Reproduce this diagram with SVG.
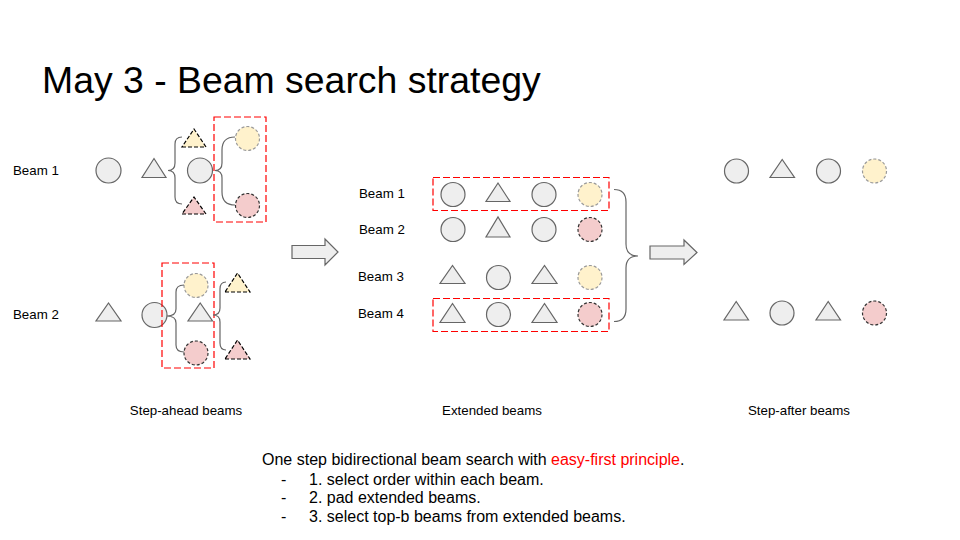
<svg xmlns="http://www.w3.org/2000/svg" width="960" height="540" viewBox="0 0 960 540">
  <style>
    text { font-family: "Liberation Sans", Arial, sans-serif; fill: #000; }
    .lbl { font-size: 13.3px; }
    .tok { fill: #eeeeee; stroke: #666666; stroke-width: 1.2; }
    .yel { fill: #fff2cc; stroke: #9a9a9a; stroke-width: 1.2; stroke-dasharray: 3 2; }
    .pnk { fill: #f4cccc; stroke: #333333; stroke-width: 1.2; stroke-dasharray: 3 2; }
    .ytri { fill: #fff2cc; stroke: #000; stroke-width: 1.2; stroke-dasharray: 4 2; }
    .ptri { fill: #f4cccc; stroke: #000; stroke-width: 1.2; stroke-dasharray: 4 2; }
    .sel { fill: none; stroke: #ff0000; stroke-width: 1.2; stroke-dasharray: 7 3; }
    .brace { fill: none; stroke: #666666; stroke-width: 1.2; }
    .big { fill: #eeeeee; stroke: #666666; stroke-width: 1.2; }
  </style>

  <text x="42" y="93" font-size="37.4">May 3 - Beam search strategy</text>

  <!-- step-ahead beams -->
  <g id="step-ahead-beam1">
    <text class="lbl" x="13" y="175">Beam 1</text>
    <circle class="tok" cx="108.5" cy="170.5" r="12.5"/>
    <polygon class="tok" points="142,177.5 166,177.5 154,158.5"/>
    <polygon class="ytri" points="182,147 206,147 194,129"/>
    <circle class="tok" cx="200" cy="170.5" r="12.5"/>
    <polygon class="ptri" points="182,214 206,214 194,197"/>
    <rect class="sel" x="214" y="117" width="52" height="105"/>
    <circle class="yel" cx="247.5" cy="138.5" r="12"/>
    <circle class="pnk" cx="247.5" cy="205.5" r="12"/>
  </g>
  <g id="step-ahead-beam2">
    <text class="lbl" x="13" y="319">Beam 2</text>
    <polygon class="tok" points="96,321 121,321 108.5,303"/>
    <circle class="tok" cx="154.5" cy="315" r="12.5"/>
    <rect class="sel" x="162" y="263" width="52" height="105"/>
    <circle class="yel" cx="196" cy="285.5" r="12"/>
    <polygon class="tok" points="188,321 212.5,321 200.2,303"/>
    <circle class="pnk" cx="196" cy="353" r="12"/>
    <polygon class="ytri" points="225,292 250,292 237.5,273"/>
    <polygon class="ptri" points="225,359 250,359 237.5,340"/>
  </g>

  <!-- extended beams -->
  <g id="extended-beam1">
    <text class="lbl" x="359" y="198">Beam 1</text>
    <rect class="sel" x="433" y="177.5" width="176" height="33"/>
    <circle class="tok" cx="453" cy="194.5" r="12"/>
    <polygon class="tok" points="486,201.5 510,201.5 498,183"/>
    <circle class="tok" cx="544" cy="194.5" r="12"/>
    <circle class="yel" cx="590" cy="194.5" r="12"/>
  </g>
  <g id="extended-beam2">
    <text class="lbl" x="359" y="234">Beam 2</text>
    <circle class="tok" cx="453" cy="229.5" r="12"/>
    <polygon class="tok" points="486,237 510,237 498,217"/>
    <circle class="tok" cx="544" cy="229.5" r="12"/>
    <circle class="pnk" cx="590" cy="229.5" r="12"/>
  </g>
  <g id="extended-beam3">
    <text class="lbl" x="358" y="281">Beam 3</text>
    <polygon class="tok" points="440,283.5 465,283.5 452.5,265.5"/>
    <circle class="tok" cx="498.5" cy="277.5" r="12"/>
    <polygon class="tok" points="532,283.5 557,283.5 544.5,265.5"/>
    <circle class="yel" cx="590" cy="277.5" r="12"/>
  </g>
  <g id="extended-beam4">
    <text class="lbl" x="358" y="318">Beam 4</text>
    <rect class="sel" x="433" y="298.5" width="176" height="33"/>
    <polygon class="tok" points="440,322.5 465,322.5 452.5,303.5"/>
    <circle class="tok" cx="498.5" cy="314.5" r="12"/>
    <polygon class="tok" points="532,322.5 557,322.5 544.5,303.5"/>
    <circle class="pnk" cx="590" cy="314.5" r="12"/>
  </g>

  <!-- step-after beams -->
  <g id="step-after-beam1">
    <circle class="tok" cx="736.5" cy="171" r="12"/>
    <polygon class="tok" points="770,177.5 794.5,177.5 782.2,159.5"/>
    <circle class="tok" cx="828.5" cy="171" r="12"/>
    <circle class="yel" cx="874.5" cy="171" r="12"/>
  </g>
  <g id="step-after-beam2">
    <polygon class="tok" points="724,320 748.5,320 736.2,301.5"/>
    <circle class="tok" cx="782" cy="313" r="12"/>
    <polygon class="tok" points="816,320 840.5,320 828.2,301.5"/>
    <circle class="pnk" cx="874.5" cy="313" r="12"/>
  </g>

  <!-- connectors: braces and step arrows -->
  <g id="connectors">
    <path class="brace" d="M182,137 Q175,137 175,144 L175,163 Q175,170.5 168,170.5 Q175,170.5 175,178 L175,197 Q175,204 182,204"/>
    <path class="brace" d="M235,137 Q222,137 222,150 L222,163 Q222,170.5 215,170.5 Q222,170.5 222,178 L222,192 Q222,205 235,205"/>
    <path class="brace" d="M184,285 Q176,285 176,292 L176,309 Q176,316 167,316 Q176,316 176,323 L176,345 Q176,352 184,352"/>
    <path class="brace" d="M226,282 Q220,282 220,289 L220,308 Q220,315 213,315 Q220,315 220,322 L220,343 Q220,350 226,350"/>
    <path class="brace" d="M614,189.5 Q626,189.5 626,202 L626,244 Q626,256 638,256 Q626,256 626,268 L626,309 Q626,321.5 614,321.5"/>
    <path class="big" d="M292,245.5 L325,245.5 L325,239 L338,252 L325,265 L325,258.5 L292,258.5 Z"/>
    <path class="big" d="M650,246 L684,246 L684,240 L697,252.5 L684,264.5 L684,259 L650,259 Z"/>
  </g>

  <text class="lbl" x="186" y="415" text-anchor="middle">Step-ahead beams</text>
  <text class="lbl" x="492" y="415" text-anchor="middle">Extended beams</text>
  <text class="lbl" x="799" y="415" text-anchor="middle">Step-after beams</text>

  <g id="notes" font-size="16">
    <text x="262" y="465">One step bidirectional beam search with <tspan style="fill:#ff0000">easy-first principle</tspan>.</text>
    <text x="281" y="485">-</text><text x="309" y="485">1. select order within each beam.</text>
    <text x="281" y="503">-</text><text x="309" y="503">2. pad extended beams.</text>
    <text x="281" y="522">-</text><text x="309" y="522">3. select top-b beams from extended beams.</text>
  </g>
</svg>
